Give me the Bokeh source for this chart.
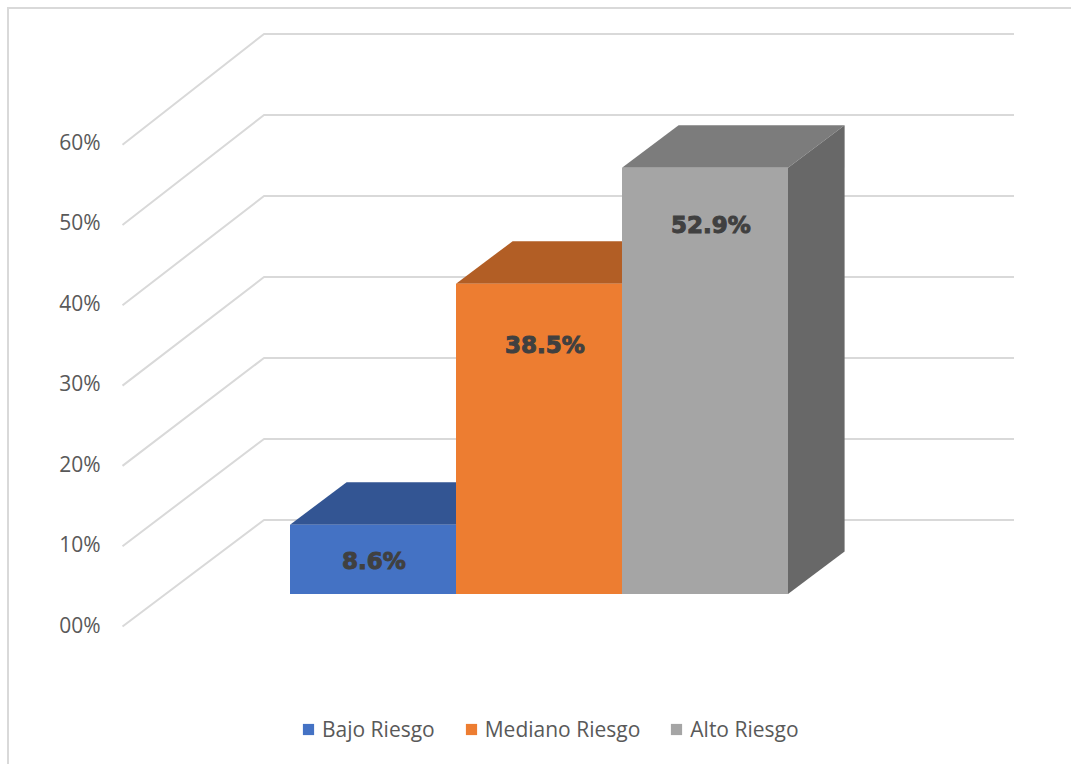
from bokeh.plotting import figure
from bokeh.embed import file_html
from bokeh.resources import INLINE
from bokeh.models import (LinearAxis, Range1d, FixedTicker, PrintfTickFormatter,
                          Legend, LegendItem)
from bokeh.core.properties import value

# ---- data ----
categories = ["Bajo Riesgo", "Mediano Riesgo", "Alto Riesgo"]
values = [8.6, 38.5, 52.9]
value_labels = ["8.6%", "38.5%", "52.9%"]
axis_ticks = [0, 10, 20, 30, 40, 50, 60]

# ---- styles ----
front_colors = ["#4472C4", "#ED7D31", "#A5A5A5"]
top_colors = ["#335593", "#B25E25", "#7C7C7C"]
side_colors = ["#294577", "#8E4B1D", "#686868"]
GRID = "#D9D9D9"
TEXT = "#595959"

# ---- layout, page pixels ----
PAGE = 9
W, H = 1071 - PAGE, 764 - PAGE
FRAME_R, FRAME_B = PAGE + W + 2, PAGE + H + 2  # the border adds 2px to the drawn frame
FRAME_L = 110
BAR_X0 = 289.5
BAR_W = 166.0
BAR_Y0 = 593.6
PX_PCT = 8.06
DEPTH_X = 56.6 / BAR_W
DEPTH_Y = 42.6 / PX_PCT

def dx(px):
    return (px - BAR_X0) / BAR_W

def dy(py):
    return (BAR_Y0 - py) / PX_PCT

p = figure(width=W, height=H, output_backend="svg", toolbar_location=None,
           x_axis_type=None, y_axis_type=None,
           x_range=Range1d(dx(FRAME_L), dx(FRAME_R)),
           y_range=Range1d(dy(FRAME_B), dy(PAGE)),
           min_border_left=FRAME_L - PAGE, min_border_right=0,
           min_border_top=0, min_border_bottom=0,
           outline_line_color=None, background_fill_color="white",
           border_fill_color="white")
p.grid.visible = False
# chart-area border: only its left and top edges fall inside the window
p.styles = {"position": "absolute", "left": f"{PAGE - 2}px", "top": f"{PAGE - 2}px",
            "border-left": f"2px solid {GRID}", "border-top": f"2px solid {GRID}",
            "box-sizing": "content-box"}

# axis on the floor-front scale of the walls
AX_Y0, AX_PCT = 624.0, 8.05
p.extra_y_ranges = {"wall": Range1d((AX_Y0 - FRAME_B) / AX_PCT, (AX_Y0 - PAGE) / AX_PCT)}
axis = LinearAxis(y_range_name="wall", ticker=FixedTicker(ticks=axis_ticks),
                  formatter=PrintfTickFormatter(format="%02d%%"),
                  axis_line_color=None, major_tick_line_color=None,
                  minor_tick_line_color=None,
                  major_label_text_font="Open Sans",
                  major_label_text_font_size="21px",
                  major_label_text_color=TEXT,
                  major_label_standoff=4)
p.add_layout(axis, "left")

# walls: a bent gridline for each tick
FX, BX, EX = dx(122), dx(263.5), dx(1013.5)
xs, ys = [], []
for t in axis_ticks:
    back = dy(519.5 - 8.1 * t)
    xs.append([FX, BX, EX])
    ys.append([dy(626 - 8.03 * t), back, back])
p.multi_line(xs, ys, line_color=GRID, line_width=2)

# bars
items = []
for i, (name, v) in enumerate(zip(categories, values)):
    p.patch([i, i + 1, i + 1 + DEPTH_X, i + DEPTH_X],
            [v, v, v + DEPTH_Y, v + DEPTH_Y], fill_color=top_colors[i], line_color=None)
    p.patch([i + 1, i + 1, i + 1 + DEPTH_X, i + 1 + DEPTH_X],
            [0, v, v + DEPTH_Y, DEPTH_Y], fill_color=side_colors[i], line_color=None)
    r = p.quad(left=[i], right=[i + 1], bottom=[0], top=[v],
               fill_color=front_colors[i], line_color=None)
    items.append(LegendItem(label=name, renderers=[r]))

# value labels
label_dx = [0.005, 0.035, 0.035]
label_dy = [-4.5, -7.65, -7.05]
p.text([i + 0.5 + label_dx[i] for i in range(3)],
       [values[i] + label_dy[i] for i in range(3)],
       text=value_labels, text_align="center", text_baseline="middle",
       text_font=value("DejaVu Sans"), text_font_style="bold",
       text_font_size="23px", text_color="#404040",
       text_outline_color="#404040")

legend = Legend(items=items, orientation="horizontal", location=(301 - FRAME_L, 23),
                glyph_width=14, glyph_height=14, label_standoff=7, spacing=29,
                padding=0, margin=0, border_line_color=None,
                background_fill_alpha=0,
                label_text_font="Open Sans", label_text_font_size="21px",
                label_text_color=TEXT)
p.add_layout(legend, "center")

open("out.html", "w").write(file_html(p, INLINE))
